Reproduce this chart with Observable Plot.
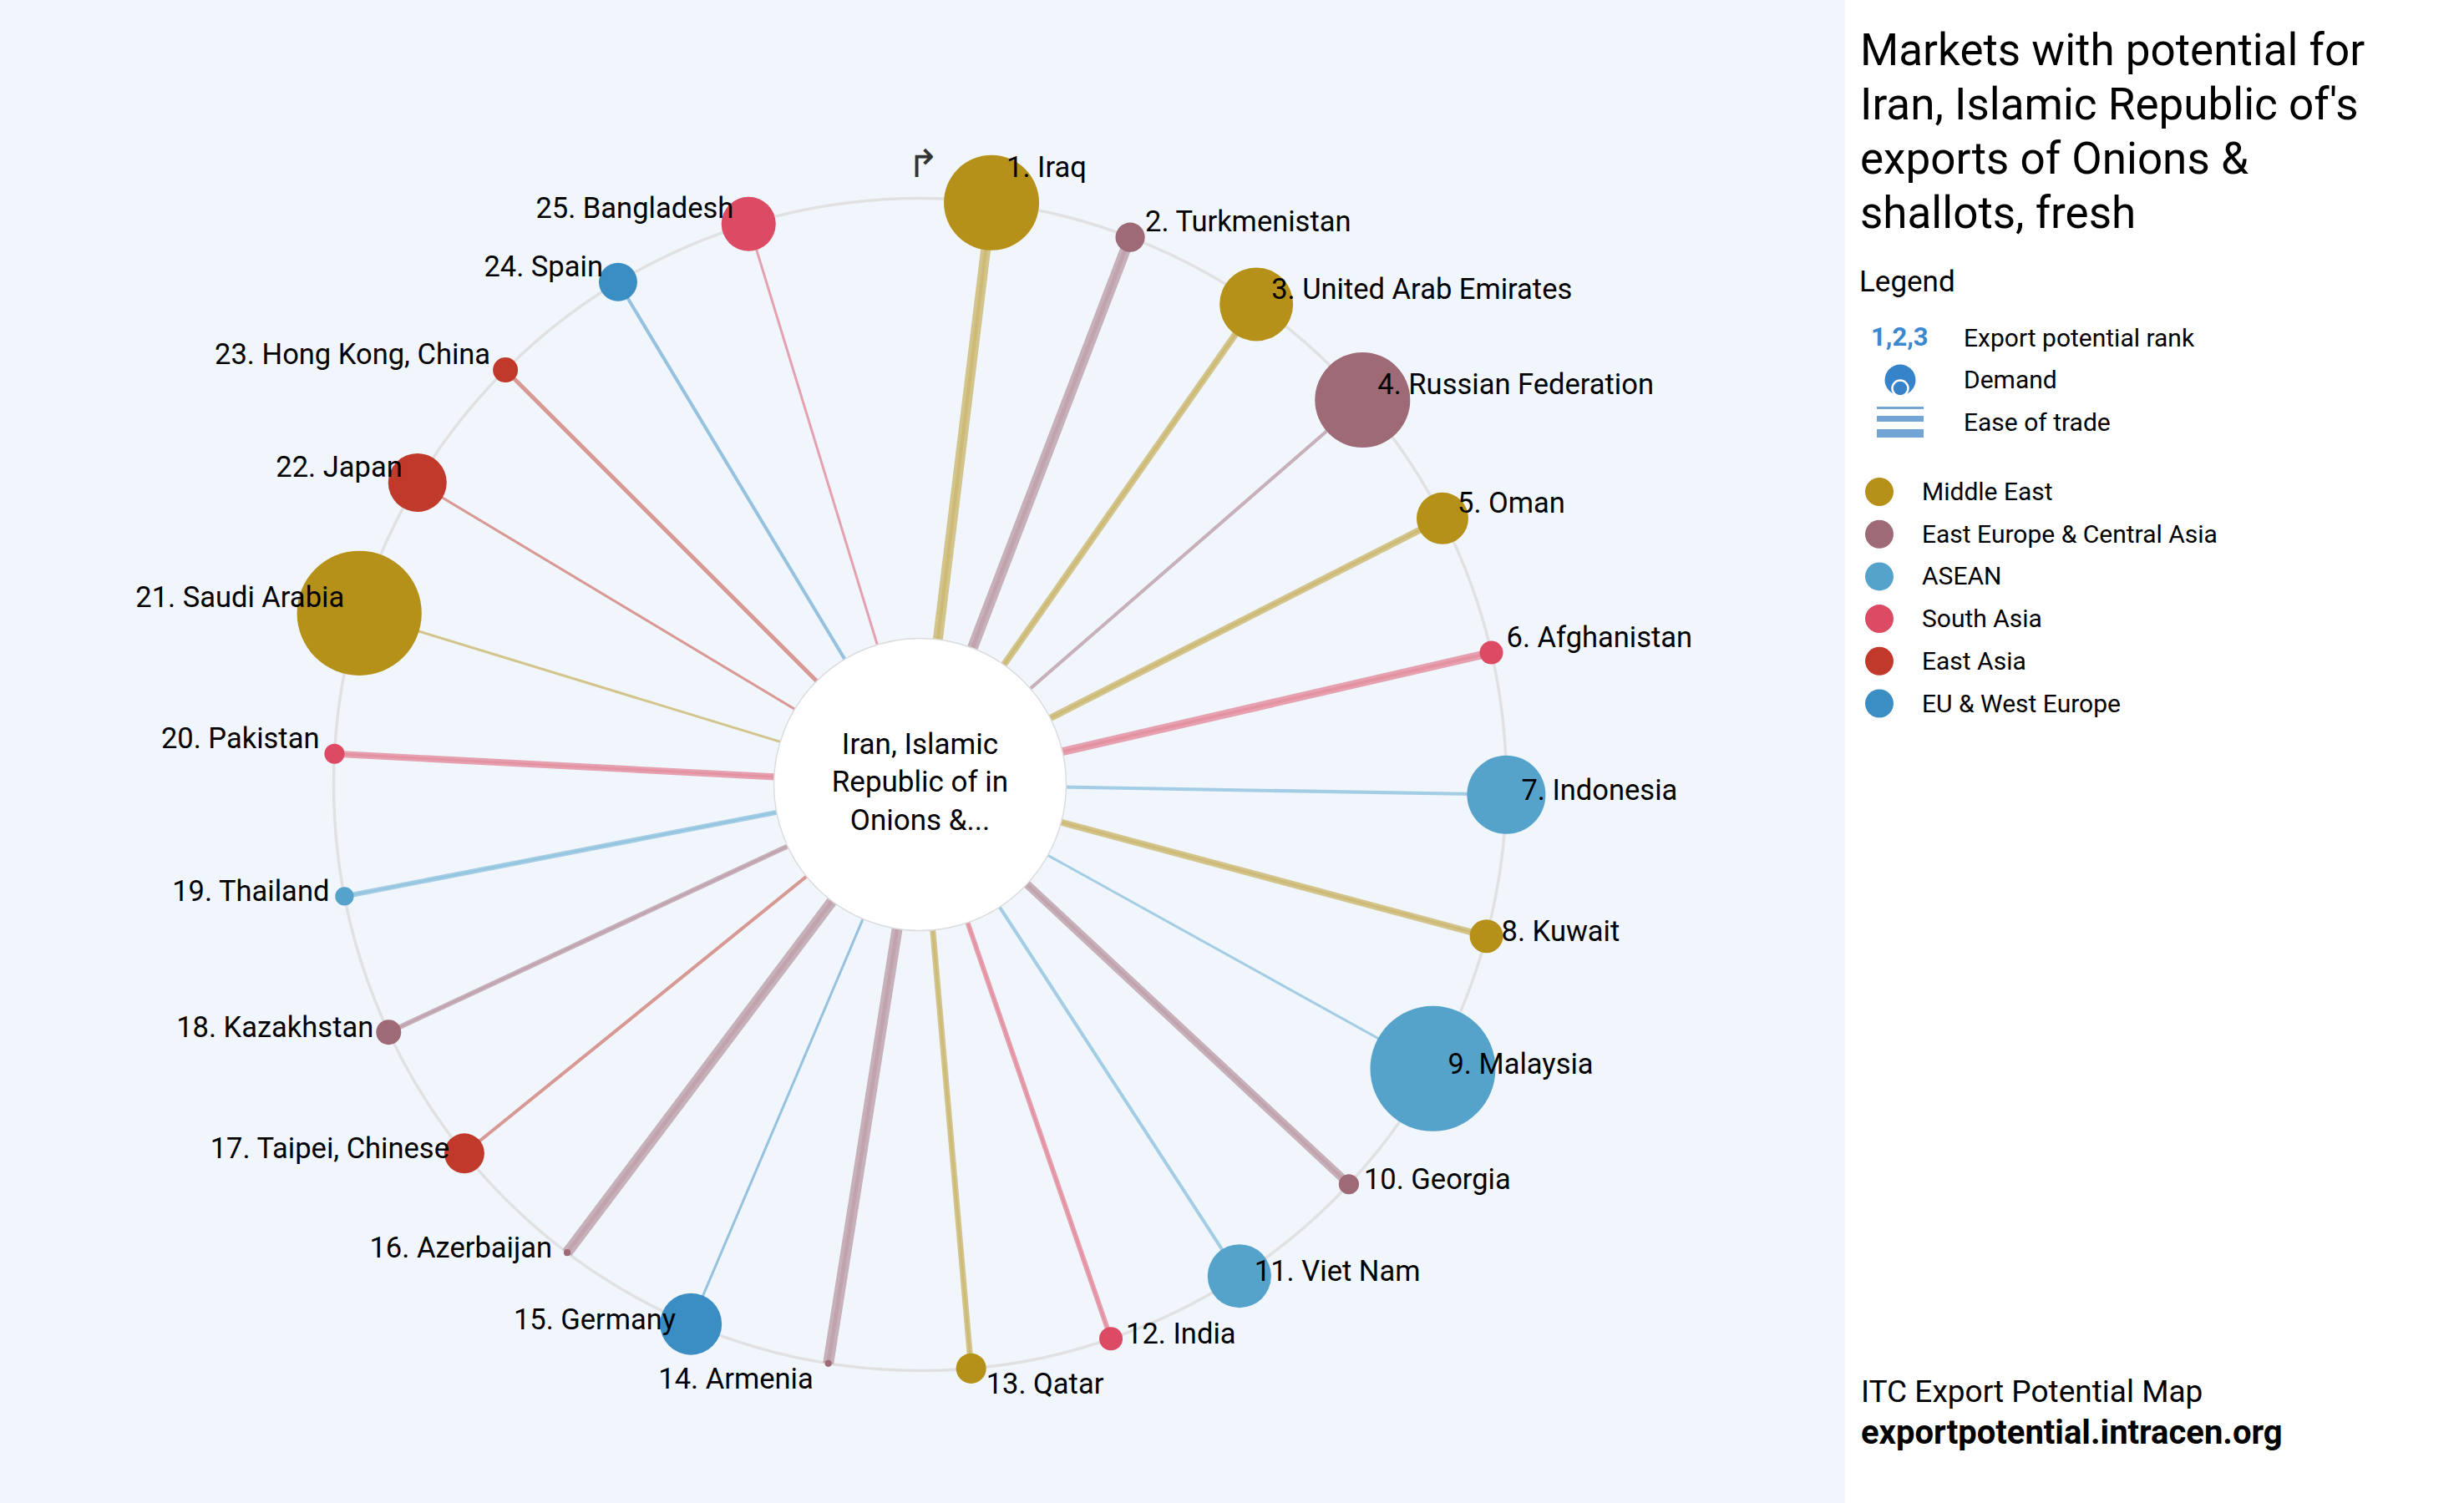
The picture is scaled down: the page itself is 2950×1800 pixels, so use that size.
<!DOCTYPE html>
<html>
<head>
<meta charset="utf-8">
<script src="https://cdn.jsdelivr.net/npm/d3@7"></script>
<script src="https://cdn.jsdelivr.net/npm/@observablehq/plot@0.6"></script>
<style>
html, body { margin: 0; padding: 0; background: #ffffff; }
body { width: 2950px; height: 1800px; position: relative; overflow: hidden; font-family: Roboto, "Noto Sans", sans-serif; color: #000; }
#chart { position: absolute; left: 0; top: 0; width: 2209px; height: 1800px; background: #f1f6fc; }
#side { position: absolute; left: 2209px; top: 0; width: 741px; height: 1800px; background: #ffffff; }
.abs { position: absolute; white-space: nowrap; }
#title { left: 18px; top: 28px; font-size: 53px; line-height: 65px; }
#legendTitle { left: 17px; top: 318px; font-size: 35px; line-height: 40px; }
.row { height: 40px; line-height: 40px; font-size: 30px; }
#caption1 { left: 19px; top: 1645px; font-size: 37px; line-height: 44px; }
#caption2 { left: 19px; top: 1694px; font-size: 40px; line-height: 44px; font-weight: bold; }
</style>
</head>
<body>
<div id="chart"></div>
<div id="side">
  <div id="title" class="abs"></div>
  <div id="legendTitle" class="abs"></div>
  <div id="legend"></div>
  <div id="caption1" class="abs"></div>
  <div id="caption2" class="abs"></div>
</div>
<script>
// ---------------- data ----------------
const markets = ["Iraq", "Turkmenistan", "United Arab Emirates", "Russian Federation", "Oman",
  "Afghanistan", "Indonesia", "Kuwait", "Malaysia", "Georgia", "Viet Nam", "India", "Qatar",
  "Armenia", "Germany", "Azerbaijan", "Taipei, Chinese", "Kazakhstan", "Thailand", "Pakistan",
  "Saudi Arabia", "Japan", "Hong Kong, China", "Spain", "Bangladesh"];
const marketRegions = ["Middle East", "East Europe & Central Asia", "Middle East", "East Europe & Central Asia", "Middle East",
  "South Asia", "ASEAN", "Middle East", "ASEAN", "East Europe & Central Asia", "ASEAN", "South Asia", "Middle East",
  "East Europe & Central Asia", "EU & West Europe", "East Europe & Central Asia", "East Asia", "East Europe & Central Asia", "ASEAN", "South Asia",
  "Middle East", "East Asia", "East Asia", "EU & West Europe", "South Asia"];
// demand (relative, max = 100) -> bubble area
const demand = [57.8, 5.5, 34.4, 57.8, 17.1, 3.5, 39.3, 7.1, 100, 2.6, 25.7, 3.5, 5.8,
  0.3, 24.3, 0.3, 10.2, 4.0, 2.2, 2.6, 99, 21.8, 4.0, 9.4, 18.8];
// ease of trade (relative, max = 100) -> line width
const easeOfTrade = [92, 100, 62, 31, 62, 77, 31, 62, 23, 77, 31, 46, 54,
  100, 23, 100, 31, 46, 46, 62, 23, 23, 38, 31, 23];
const regionNames = ["Middle East", "East Europe & Central Asia", "ASEAN", "South Asia", "East Asia", "EU & West Europe"];
const regionColors = ["#b5911a", "#9e6a75", "#55a3cb", "#dc4b63", "#c0392b", "#3b8ec4"];
const centerLabel = "Iran, Islamic\nRepublic of in\nOnions &...";
const titleLines = ["Markets with potential for", "Iran, Islamic Republic of's", "exports of Onions &", "shallots, fresh"];
const legendTitle = "Legend";
const legendKeys = ["Export potential rank", "Demand", "Ease of trade"];
const rankSample = "1,2,3";
const captionLines = ["ITC Export Potential Map", "exportpotential.intracen.org"];

// ---------------- layout ----------------
const W = 2209, H = 1800;
const cx = 1101, cy = 939, R = 702, innerR = 175;
const stepDeg = 360 / (markets.length + 0.7143); // ~14 degrees per market

const data = markets.map((name, i) => {
  const angle = (i + 0.5) * stepDeg;
  const a = angle * Math.PI / 180;
  return {
    rank: i + 1, name, region: marketRegions[i], demand: demand[i], ease: easeOfTrade[i],
    angle, x: R * Math.sin(a), y: -R * Math.cos(a)
  };
});
const easeWidth = d3.scaleLinear([0, 100], [0, 13]);
function labelDy(d) {
  if (d.angle < 10 || d.angle > 350) return -42;
  if (d.angle > 168 && d.angle < 192) return 19;
  return d.y < 0 ? -18 : -5;
}
const origin = [{x: 0, y: 0}];

const chart = Plot.plot({
  width: W, height: H, margin: 0,
  style: {background: "transparent", fontFamily: "Roboto, sans-serif"},
  x: {domain: [-cx, W - cx], range: [0, W], axis: null},
  y: {domain: [-cy, H - cy], range: [0, H], axis: null},
  r: {type: "sqrt", domain: [0, 100], range: [0, 75]},
  color: {domain: regionNames, range: regionColors},
  marks: [
    Plot.dot(origin, {x: "x", y: "y", r: R, fill: "none", stroke: "#e1e1e1", strokeWidth: 3.5}),
    Plot.link(data, {x1: d => 0, y1: d => 0, x2: "x", y2: "y", stroke: "region",
      strokeWidth: d => easeWidth(d.ease), strokeOpacity: 0.5}),
    Plot.link(data.filter(d => d.ease >= 40), {x1: d => 0, y1: d => 0, x2: "x", y2: "y", stroke: "region",
      strokeWidth: d => easeWidth(d.ease) * 0.35, strokeOpacity: 0.18}),
    Plot.dot(origin, {x: "x", y: "y", r: innerR, fill: "white", stroke: "#dcdcdc", strokeWidth: 1.5}),
    Plot.text([centerLabel], {x: d => 0, y: d => 0, dy: -6, text: d => d, fontSize: 35, lineHeight: 1.3, fill: "#000"}),
    Plot.dot(data, {x: "x", y: "y", r: "demand", fill: "region"}),
    Plot.text(data.filter(d => d.angle < 180), {x: "x", y: d => d.y + labelDy(d), text: d => `${d.rank}. ${d.name}`,
      textAnchor: "start", dx: 18, fontSize: 34.5, fill: "#000"}),
    Plot.text(data.filter(d => d.angle >= 180), {x: "x", y: d => d.y + labelDy(d), text: d => `${d.rank}. ${d.name}`,
      textAnchor: "end", dx: -18, fontSize: 34.5, fill: "#000"}),
    Plot.text(["\u21B1"], {x: d => 0, y: d => -(R + 40), dx: 4, text: d => d, fontSize: 46,
      fontFamily: "DejaVu Sans", fontWeight: 300, fill: "#333"})
  ]
});
document.getElementById("chart").appendChild(chart);

// ---------------- side panel ----------------
document.getElementById("title").innerHTML = titleLines.join("<br>");
document.getElementById("legendTitle").textContent = legendTitle;
document.getElementById("caption1").textContent = captionLines[0];
document.getElementById("caption2").textContent = captionLines[1];

const legend = document.getElementById("legend");
function addRow(left, cyRow, html, extraStyle) {
  const div = document.createElement("div");
  div.className = "abs row";
  div.style.left = left + "px";
  div.style.top = (cyRow - 20) + "px";
  if (extraStyle) div.setAttribute("style", div.getAttribute("style") + ";" + extraStyle);
  div.innerHTML = html;
  legend.appendChild(div);
}
addRow(31, 404, rankSample, "font-weight:bold;color:#3b88d0;font-size:31px");
addRow(142, 405, legendKeys[0]);
addRow(142, 455, legendKeys[1]);
addRow(142, 506, legendKeys[2]);

const NS = "http://www.w3.org/2000/svg";
const icons = document.createElementNS(NS, "svg");
icons.setAttribute("width", 741); icons.setAttribute("height", 900);
icons.style.position = "absolute"; icons.style.left = "0px"; icons.style.top = "0px";
function el(tag, attrs) {
  const e = document.createElementNS(NS, tag);
  for (const k in attrs) e.setAttribute(k, attrs[k]);
  icons.appendChild(e);
  return e;
}
// demand icon
el("circle", {cx: 66, cy: 455, r: 18.5, fill: "#3783c9"});
el("circle", {cx: 66, cy: 465, r: 9.5, fill: "#3783c9", stroke: "#fff", "stroke-width": 2.5});
// ease of trade icon
el("rect", {x: 38, y: 487, width: 56, height: 3, fill: "#72a5d6"});
el("rect", {x: 38, y: 498, width: 56, height: 7, fill: "#72a5d6"});
el("rect", {x: 38, y: 514, width: 56, height: 10, fill: "#72a5d6"});
// region legend
regionNames.forEach((name, i) => {
  const y = 589 + i * 50.7;
  el("circle", {cx: 41, cy: y, r: 17, fill: regionColors[i]});
  addRow(92, y, name);
});
legend.appendChild(icons);
</script>
</body>
</html>
